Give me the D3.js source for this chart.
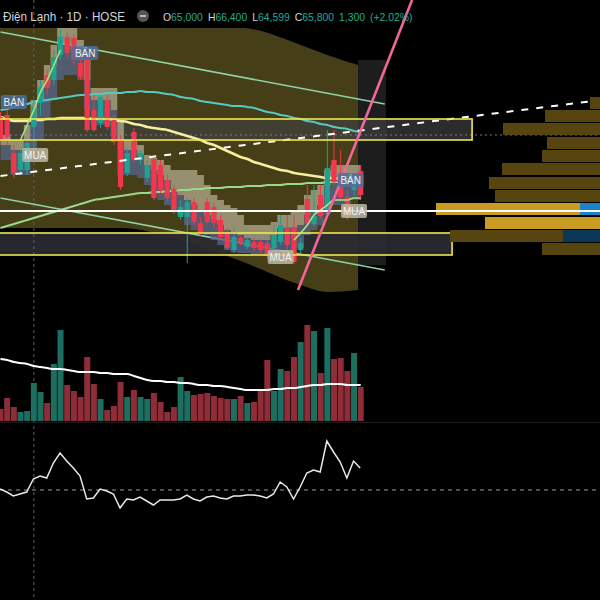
<!DOCTYPE html>
<html><head><meta charset="utf-8">
<script src="https://cdn.jsdelivr.net/npm/d3@7"></script>
<style>html,body{margin:0;padding:0;background:#000;overflow:hidden}</style>
</head><body><svg id="c" width="600" height="600"></svg>
<script>
// ---------- DATA ----------
const candleOpen  = [69.2,69.3,67.4,66.55,66.55,68.7,69.9,71.3,71.05,72.3,73.2,73.15,71.9,72.4,69.55,68.9,70.05,69.05,68.05,66.4,68.45,67.05,66.15,67.1,66.8,66.05,65.6,64.2,64.2,64.95,63.9,64.95,64.7,64.05,63.45,62.55,63.15,62.7,62.95,62.95,62.9,62.65,62.95,63.7,63.7,62.55,65.1,63.85,65.3,64.45,67.05,66.2,65.2,65.55,66.5];
const candleHigh  = [69.45,69.55,67.8,67.55,68.05,70.05,71.05,71.55,72.55,73.55,73.4,73.3,72.3,72.55,70.3,70.3,70.3,69.3,68.3,67.65,68.65,67.55,67.05,67.3,67.05,66.3,65.8,65.05,65.15,65.15,64.15,65.15,64.9,64.3,63.65,63.7,63.25,63.2,63.15,63.1,63.05,63.8,64.3,64.3,64.3,63.15,65.8,65.8,65.8,68.55,68.55,67.55,65.55,66.3,66.8];
const candleLow   = [67.95,67.8,66.15,66.3,66.3,67.55,69.3,70.3,70.8,72.05,72.15,71.8,71.05,68.45,68.45,68.65,68.55,67.8,65.55,66.25,66.95,66.8,65.95,65.05,65.4,64.95,64.35,64.05,61.9,63.8,63.25,63.8,63.65,63.05,62.55,62.4,62.8,62.6,62.5,62.4,62.15,62.55,62.8,62.55,61.85,62.4,63.75,63.75,64.15,64.35,65.8,65.05,64.05,65.3,65.05];
const candleClose = [68.05,68.2,66.4,67.4,67.9,69.7,70.7,70.65,72.2,73.2,72.4,72.05,71.2,68.55,68.55,70.2,68.7,67.95,65.7,67.4,67.05,67.4,66.8,65.15,65.55,65.15,64.55,64.7,64.95,63.95,63.4,63.95,63.9,63.2,62.65,63.2,62.95,63.05,62.65,62.55,62.3,63.3,63.8,62.8,61.95,62.9,63.85,64.25,64.25,66.65,65.95,65.2,64.2,65.9,65.3];
const volumeUp    = [0,0,0,1,1,1,1,0,1,1,0,0,0,0,0,1,0,0,0,1,0,1,1,0,0,0,0,1,1,0,0,0,0,0,0,1,0,1,0,0,0,1,1,0,0,1,0,1,0,1,0,0,0,1,0];
const volume      = [12,23,14,9,10,38,29,18,57,91,36,30,24,64,37,22,11,15,39,24,31,24,22,28,19,9,14,44,30,26,27,28,25,23,22,22,25,18,19,30,61,30,52,50,64,79,96,90,48,93,62,63,50,68,34];
const volumeMA    = [62,61,59,58,57,55,54,53,52,52,51,50,49,49,49,48,48,47,47,47,45,43,41,40,40,39,39,38,38,37,36,36,35,35,34,33,32,31,31,31,31,32,32,33,33,34,35,36,36,37,37,37,36,36,36];
const maCyan   = [69.55,69.6,69.7,69.8,69.85,69.95,70.0,70.05,70.1,70.15,70.2,70.25,70.3,70.3,70.35,70.35,70.4,70.4,70.4,70.45,70.45,70.5,70.45,70.45,70.4,70.35,70.3,70.2,70.15,70.1,70.0,69.95,69.9,69.85,69.8,69.75,69.75,69.7,69.65,69.55,69.45,69.4,69.3,69.25,69.15,69.1,69.0,68.95,68.85,68.8,68.7,68.65,68.6,68.5,68.45];
const maYellow = [69.2,69.1,69.0,69.0,69.0,69.05,69.05,69.1,69.1,69.15,69.15,69.15,69.15,69.15,69.1,69.1,69.1,69.05,69.0,68.95,68.85,68.8,68.7,68.65,68.6,68.55,68.45,68.35,68.25,68.15,68.05,67.9,67.8,67.65,67.5,67.35,67.2,67.1,66.95,66.85,66.75,66.65,66.55,66.5,66.4,66.35,66.3,66.25,66.2,66.15,66.15,66.1,66.1,66.05,66.05];
const maGreen  = [63.65,63.75,63.85,63.95,64.05,64.15,64.25,64.35,64.45,64.55,64.65,64.75,64.85,64.95,65.05,65.1,65.15,65.2,65.25,65.3,65.35,65.4,65.4,65.45,65.45,65.5,65.5,65.55,65.55,65.6,65.6,65.65,65.65,65.65,65.7,65.7,65.7,65.75,65.75,65.75,65.8,65.8,65.8,65.85,65.85,65.85,65.9,65.9,65.9,65.95,65.95,65.95,66.0,66.0,66.0];
const fastLine = [null,null,null,68.05,68.8,69.55,70.45,71.05,71.8,72.55,null,null,null,null,null,null,null,null,null,null,null,null,null,null,null,null,null,null,null,null,null,null,null,null,null,null,null,null,null,null,null,null,null,null,63.05,63.4,63.8,64.3,64.55,64.8,65.05,65.05,65.05,65.15,65.15];
const cloudTop = [68.3,68.3,68.05,68.05,68.8,70.05,71.05,71.8,72.8,73.65,73.65,73.65,73.05,72.05,70.65,70.65,70.65,70.65,69.05,68.05,68.05,67.8,67.3,67.15,67.05,66.8,66.55,66.55,66.55,66.55,66.3,65.8,65.3,65.05,64.8,64.65,64.3,63.8,63.8,63.8,63.8,63.95,64.3,64.3,64.55,64.8,65.3,65.55,65.8,66.55,66.8,66.8,66.8,66.8,66.8];
const cloudMid = [67.8,67.8,67.55,67.55,68.05,69.05,70.05,70.8,71.8,72.8,72.8,72.55,72.05,71.05,70.05,70.05,70.05,69.55,68.05,67.55,67.55,67.3,66.8,66.55,66.3,66.05,65.55,65.3,65.05,64.8,64.55,64.3,64.05,63.8,63.55,63.45,63.3,63.15,63.05,63.05,63.05,63.3,63.65,63.65,63.65,63.8,64.3,64.55,64.8,65.8,66.05,66.05,66.05,66.05,66.05];
const cloudBot = [67.05,67.05,66.3,66.3,66.3,67.55,68.05,69.05,70.05,71.05,71.3,71.3,71.05,69.55,68.8,68.8,68.8,68.3,66.3,66.3,66.3,66.15,65.8,65.3,65.05,64.8,64.55,64.3,63.8,63.55,63.45,63.3,63.05,62.8,62.55,62.45,62.4,62.4,62.3,62.3,62.25,62.3,62.55,62.55,62.55,62.65,63.3,63.55,63.8,64.3,64.8,64.8,64.8,65.05,65.05];
const envIndex = [-0.1,18,27,36,45,49,53.6];
const envTop   = [73.65,73.65,73.65,73.65,72.8,72.3,71.8];
const envBot   = [63.65,63.65,63.05,62.0,60.8,60.45,60.55];
const oscillator = [1,-2,-6,-4,-2,11,14,12,27,37,29,22,14,-9,-8,1,-1,-4,-18,-9,-10,-7,-11,-15,-10,-10,-10,-9,-5,-9,-11,-7,-6,-8,-9,-6,-6,-5,-5,-6,-8,-4,8,3,-9,3,17,20,18,49,38,28,12,29,22];
const profileLevels = [69.9,69.25,68.6,67.9,67.25,66.6,65.9,65.25,64.6,63.9,63.25,62.6];
const profileTotal  = [10,55,97,53,58,98,111,105,164,115,150,58];
const profileDown   = [0,0,0,0,0,0,0,0,20,0,37,0];
const profileValueArea = [0,0,0,0,0,0,0,0,1,1,0,0];
const zones = [{i0:-1,i1:70.7,pTop:69.1,pBot:68.05},{i0:-1,i1:67.7,pTop:63.4,pBot:62.3}];
const supportLevel = 64.5;
const dottedLevel = 68.3;
const trendDashed = [[0,66.25],[90,70.05]];
const channelUpper = [[0,73.45],[57.6,69.85]];
const channelLower = [[0,65.15],[57.6,61.55]];
const pinkTrend = [[44.6,60.55],[61.7,75.05]];
const projection = {i0:53.6,i1:57.8,pTop:72.05,pBot:61.8};
const crosshairIndex = 5;
const signalLabels = [
  {i:2,p:69.95,t:"BÁN",k:"sell"},
  {i:12.7,p:72.4,t:"BÁN",k:"sell"},
  {i:5.2,p:67.3,t:"MUA",k:"buy"},
  {i:42,p:62.2,t:"MUA",k:"buy"},
  {i:52.5,p:66.05,t:"BÁN",k:"sell"},
  {i:53,p:64.5,t:"MUA",k:"buy"}
];
const title = "Điện Lạnh · 1D · HOSE";
const ohlcLabels = ["O","H","L","C","",""];
const ohlcValues = ["65,000","66,400","64,599","65,800","1,300","(+2.02%)"];

// ---------- SCALES ----------
const svg = d3.select('#c');
const x  = d3.scaleLinear().domain([0,54]).range([0.5,360.7]);
const y  = d3.scaleLinear().domain([55.55,74.55]).range([390,10]);
const yv = d3.scaleLinear().domain([0,120]).range([421,301]);
const yo = d3.scaleLinear().domain([-60,80]).range([550,410]);
const xp = d3.scaleLinear().domain([0,164]).range([600,436]);
const idx = d3.range(55);

svg.append('rect').attr('width',600).attr('height',600).attr('fill','#000');

// olive envelope
svg.append('path')
  .datum(envIndex.map((v,k)=>[v,envTop[k],envBot[k]]))
  .attr('d', d3.area().x(d=>x(d[0])).y0(d=>y(d[2])).y1(d=>y(d[1])).curve(d3.curveMonotoneX))
  .attr('fill','#463e17');

// projection band
svg.append('rect').attr('x',x(projection.i0)).attr('y',y(projection.pTop))
  .attr('width',x(projection.i1)-x(projection.i0)).attr('height',y(projection.pBot)-y(projection.pTop))
  .attr('fill','#1d1d1d');

// zone fills
svg.append('rect').attr('x',0).attr('y',y(zones[0].pTop)).attr('width',x(zones[0].i1))
  .attr('height',y(zones[0].pBot)-y(zones[0].pTop)).attr('fill','rgba(62,62,62,0.7)');
svg.append('rect').attr('x',0).attr('y',y(zones[1].pTop)).attr('width',x(zones[1].i1))
  .attr('height',y(zones[1].pBot)-y(zones[1].pTop)).attr('fill','rgba(42,42,50,0.92)');

// crosshair & grid
svg.append('line').attr('x1',x(crosshairIndex)).attr('x2',x(crosshairIndex)).attr('y1',0).attr('y2',600)
  .attr('stroke','#5d606b').attr('stroke-dasharray','3,3').attr('stroke-width',1);
svg.append('line').attr('x1',0).attr('x2',600).attr('y1',y(dottedLevel)).attr('y2',y(dottedLevel))
  .attr('stroke','#7a7a70').attr('stroke-dasharray','2,3').attr('stroke-width',1);

// channel lines
const ln = d3.line().x(d=>x(d[0])).y(d=>y(d[1]));
[channelUpper, channelLower].forEach(c=>{
  svg.append('path').attr('d',ln(c)).attr('stroke','#8fd3a4').attr('stroke-width',1.5).attr('fill','none');
});

// clouds
const cloud = idx.map(i=>({i,t:cloudTop[i],m:cloudMid[i],b:cloudBot[i]}));
svg.append('path').datum(cloud)
  .attr('d', d3.area().x(d=>x(d.i)).y0(d=>y(d.m)).y1(d=>y(d.t)).curve(d3.curveStep))
  .attr('fill','#bdb79b').attr('opacity',0.68);
svg.append('path').datum(cloud)
  .attr('d', d3.area().x(d=>x(d.i)).y0(d=>y(d.b)).y1(d=>y(d.m)).curve(d3.curveStep))
  .attr('fill','#58658e').attr('opacity',0.75);

// MAs
const maLine = d3.line().x((d,i)=>x(i)).y(d=>y(d)).curve(d3.curveMonotoneX);
svg.append('path').attr('d',maLine(maGreen)).attr('stroke','#9ad98c').attr('stroke-width',2).attr('fill','none');
svg.append('path').attr('d',maLine(maCyan)).attr('stroke','#55c9c2').attr('stroke-width',2).attr('fill','none');
svg.append('path').attr('d',maLine(maYellow)).attr('stroke','#f4ef9c').attr('stroke-width',2.6).attr('fill','none');

// candles
const cg = svg.append('g');
idx.forEach(i=>{
  const up = candleClose[i] >= candleOpen[i];
  const col = up ? '#1fa292' : '#f0384c';
  cg.append('line').attr('x1',x(i)).attr('x2',x(i)).attr('y1',y(candleHigh[i])).attr('y2',y(candleLow[i]))
    .attr('stroke',col).attr('stroke-width',1);
  const top = y(Math.max(candleOpen[i],candleClose[i])), bot = y(Math.min(candleOpen[i],candleClose[i]));
  cg.append('rect').attr('x',x(i)-2.6).attr('y',top).attr('width',5.2).attr('height',Math.max(1,bot-top)).attr('fill',col);
});

// fast line
svg.append('path').attr('d', d3.line().defined(d=>d!==null).x((d,i)=>x(i)).y(d=>y(d)).curve(d3.curveMonotoneX)(fastLine))
  .attr('stroke','#a6e57c').attr('stroke-width',1.6).attr('fill','none');

// dashed trend
svg.append('path').attr('d',ln(trendDashed)).attr('stroke','#ffffff').attr('stroke-width',2)
  .attr('stroke-dasharray','7,8').attr('fill','none');

// zone strokes
zones.forEach(z=>{
  svg.append('rect').attr('x',-2).attr('y',y(z.pTop)).attr('width',x(z.i1)+2).attr('height',y(z.pBot)-y(z.pTop))
    .attr('fill','none').attr('stroke','#eee84e').attr('stroke-width',1.6);
});

// volume profile
profileLevels.forEach((p,k)=>{
  const va = profileValueArea[k]===1;
  const yt = y(p+0.3), h = y(p-0.3)-y(p+0.3);
  svg.append('rect').attr('x',xp(profileTotal[k])).attr('y',yt).attr('width',600-xp(profileTotal[k])).attr('height',h)
    .attr('fill', va ? '#c99b22' : '#56450f');
  if(profileDown[k]>0){
    svg.append('rect').attr('x',xp(profileDown[k])).attr('y',yt).attr('width',600-xp(profileDown[k])).attr('height',h)
      .attr('fill', va ? '#1b84c6' : '#0b3858');
  }
});

// support white line
svg.append('line').attr('x1',0).attr('x2',600).attr('y1',y(supportLevel)).attr('y2',y(supportLevel))
  .attr('stroke','#ffffff').attr('stroke-width',1.8);

// pink trend
svg.append('path').attr('d',ln(pinkTrend)).attr('stroke','#f0679a').attr('stroke-width',2.6).attr('fill','none');

// labels
signalLabels.forEach(l=>{
  const cx = x(l.i), cy = y(l.p);
  svg.append('rect').attr('x',cx-13).attr('y',cy-7).attr('width',26).attr('height',14).attr('rx',2)
    .attr('fill', l.k==='sell' ? '#4f6f9d' : '#bdb8a4').attr('opacity',0.85);
  svg.append('text').attr('x',cx).attr('y',cy+4).attr('text-anchor','middle')
    .attr('font-family','Liberation Sans, Arial, sans-serif').attr('font-size',10)
    .attr('fill','#f2f2f2').text(l.t);
});

// volume pane
idx.forEach(i=>{
  svg.append('rect').attr('x',x(i)-3).attr('y',yv(volume[i])).attr('width',6).attr('height',yv(0)-yv(volume[i]))
    .attr('fill', volumeUp[i] ? '#1e6e60' : '#8e2c37');
});
svg.append('path').attr('d', d3.line().x((d,i)=>x(i)).y(d=>yv(d)).curve(d3.curveMonotoneX)(volumeMA))
  .attr('stroke','#ffffff').attr('stroke-width',2).attr('fill','none');

// separator
svg.append('line').attr('x1',0).attr('x2',600).attr('y1',422.5).attr('y2',422.5).attr('stroke','#1c1c1c');

// oscillator pane
svg.append('line').attr('x1',0).attr('x2',600).attr('y1',yo(0)).attr('y2',yo(0))
  .attr('stroke','#9a9a9a').attr('stroke-dasharray','4,4').attr('stroke-width',1);
svg.append('path').attr('d', d3.line().x((d,i)=>x(i)-0.5).y(d=>yo(d))(oscillator))
  .attr('stroke','#e8e8e8').attr('stroke-width',1.5).attr('fill','none');

// header
const font = 'Liberation Sans, Arial, sans-serif';
svg.append('text').attr('x',3).attr('y',21).attr('font-family',font).attr('font-size',13.5)
  .attr('textLength',122).attr('lengthAdjust','spacingAndGlyphs')
  .attr('fill','#d1d4dc').text(title);
svg.append('circle').attr('cx',143).attr('cy',16).attr('r',6).attr('fill','#555');
svg.append('line').attr('x1',140).attr('x2',146).attr('y1',16).attr('y2',16).attr('stroke','#ddd').attr('stroke-width',1.5);
const hdr = svg.append('text').attr('x',163).attr('y',21).attr('font-family',font).attr('font-size',10.4);
ohlcValues.forEach((v,k)=>{
  const a = hdr.append('tspan').attr('fill','#d1d4dc').text(ohlcLabels[k]);
  if(k>0) a.attr('dx', ohlcLabels[k] ? 5 : 0);
  const b = hdr.append('tspan').attr('fill','#22ab94').text(v);
  if(k>0 && !ohlcLabels[k]) b.attr('dx',5);
});
</script></body></html>
